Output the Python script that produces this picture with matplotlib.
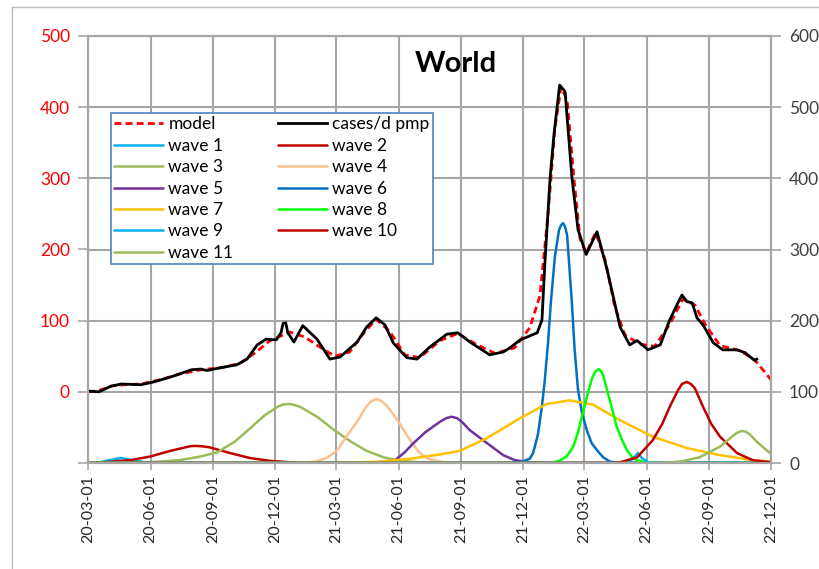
import pandas as pd
import matplotlib
matplotlib.use("Agg")
from matplotlib import pyplot as plt
from matplotlib.lines import Line2D
import matplotlib.dates as mdates

plt.rcParams['font.family'] = ['Lato', 'DejaVu Sans']

# cases per day per million (left axis)
cases_dates = ['2020-03-02', '2020-03-17', '2020-04-04', '2020-04-19', '2020-05-18', '2020-06-06',
               '2020-07-01', '2020-07-31', '2020-08-14', '2020-08-23', '2020-09-13', '2020-10-06',
               '2020-10-21', '2020-11-05', '2020-11-18', '2020-12-03', '2020-12-10', '2020-12-13',
               '2020-12-17', '2020-12-20', '2020-12-29', '2021-01-11', '2021-02-01', '2021-02-20',
               '2021-03-07', '2021-04-01', '2021-04-15', '2021-04-29', '2021-05-12', '2021-05-24',
               '2021-06-13', '2021-06-28', '2021-07-17', '2021-08-11', '2021-08-27', '2021-09-14',
               '2021-10-13', '2021-11-02', '2021-11-12', '2021-11-27', '2021-12-22', '2021-12-29',
               '2022-01-02', '2022-01-10', '2022-01-16', '2022-01-24', '2022-02-01', '2022-02-11',
               '2022-02-20', '2022-03-04', '2022-03-20', '2022-04-04', '2022-04-23', '2022-05-07',
               '2022-05-18', '2022-06-03', '2022-06-21', '2022-07-05', '2022-07-17', '2022-07-23',
               '2022-07-30', '2022-08-07', '2022-08-14', '2022-08-23', '2022-09-07', '2022-09-21',
               '2022-10-12', '2022-10-24', '2022-11-07', '2022-11-10']
cases = [1, 0, 8, 11, 10, 14,
         21, 31, 32, 30, 34, 38,
         46, 66, 74, 73, 83, 96,
         97, 83, 70, 93, 74, 46,
         49, 70, 91, 104, 94, 69,
         48, 46, 63, 81, 83, 70,
         52, 56, 62, 73, 83, 101,
         176, 302, 365, 431, 422, 302,
         228, 193, 225, 171, 91, 66,
         72, 59, 66, 101, 125, 136,
         127, 125, 104, 94, 69, 59,
         59, 55, 44, 46]

# model fit (left axis)
model_dates = ['2020-03-01', '2020-03-18', '2020-04-04', '2020-04-24', '2020-05-18', '2020-06-15',
               '2020-07-14', '2020-08-14', '2020-09-13', '2020-10-11', '2020-11-02', '2020-11-24',
               '2020-12-23', '2021-01-14', '2021-02-05', '2021-02-27', '2021-03-21', '2021-04-12',
               '2021-04-29', '2021-05-19', '2021-06-10', '2021-07-02', '2021-08-01', '2021-08-27',
               '2021-09-21', '2021-10-21', '2021-11-19', '2021-12-11', '2021-12-26', '2022-01-07',
               '2022-01-17', '2022-01-26', '2022-02-04', '2022-02-14', '2022-02-23', '2022-03-04',
               '2022-03-18', '2022-04-01', '2022-04-15', '2022-04-30', '2022-05-22', '2022-06-13',
               '2022-07-05', '2022-07-24', '2022-08-11', '2022-08-26', '2022-09-17', '2022-10-16',
               '2022-11-07', '2022-12-01']
model = [0, 2, 8, 10, 11, 17,
         25, 31, 34, 40, 55, 72,
         84, 77, 63, 50, 56, 84,
         102, 85, 52, 48, 72, 82,
         68, 54, 62, 90, 135, 250,
         370, 428, 410, 300, 215, 195,
         224, 185, 120, 80, 67, 64,
         95, 130, 122, 95, 65, 58,
         45, 17]

# waves (right axis)
w1_dates = ['2020-03-01', '2020-03-18', '2020-04-02', '2020-04-19', '2020-05-05', '2020-05-24',
            '2020-06-15', '2022-12-01']
w1 = [0, 1, 4, 7, 4, 1, 0, 0]

w2_dates = ['2020-03-01', '2020-03-18', '2020-05-02', '2020-05-31', '2020-06-30', '2020-07-22',
            '2020-07-29', '2020-08-05', '2020-08-16', '2020-08-27', '2020-09-26', '2020-10-25',
            '2020-11-24', '2020-12-23', '2021-01-22', '2022-12-01']
w2 = [0, 0.5, 4, 9, 17, 22, 23.5, 24, 23.5, 22, 14, 7, 3, 1, 0, 0]

w3_dates = ['2020-03-01', '2020-05-31', '2020-07-14', '2020-08-13', '2020-09-07', '2020-10-03',
            '2020-10-27', '2020-11-16', '2020-12-05', '2020-12-12', '2020-12-20', '2020-12-28',
            '2021-01-07', '2021-02-01', '2021-02-28', '2021-03-23', '2021-04-15', '2021-05-10',
            '2021-06-03', '2021-07-02', '2021-08-01', '2022-12-01']
w3 = [0, 1, 4, 9, 15, 30, 50, 67, 79, 82, 83, 82, 79, 65, 45, 30, 17, 8, 3, 1, 0, 0]

w4_dates = ['2020-03-01', '2021-01-07', '2021-01-29', '2021-02-15', '2021-03-02', '2021-03-17',
            '2021-04-01', '2021-04-15', '2021-04-22', '2021-04-30', '2021-05-07', '2021-05-15',
            '2021-05-29', '2021-06-18', '2021-07-02', '2021-07-17', '2021-08-08', '2021-08-30',
            '2022-12-01']
w4 = [0, 0, 2, 7, 17, 38, 58, 80, 87, 90, 87, 80, 62, 32, 14, 5, 1, 0, 0]

w5_dates = ['2020-03-01', '2021-04-05', '2021-05-05', '2021-05-27', '2021-06-10', '2021-06-22',
            '2021-07-10', '2021-08-01', '2021-08-10', '2021-08-18', '2021-08-26', '2021-09-02',
            '2021-09-14', '2021-10-09', '2021-11-02', '2021-11-19', '2021-12-11', '2022-01-10',
            '2022-12-01']
w5 = [0, 0, 1, 4, 15, 27, 43, 58, 63, 65, 63, 58, 46, 28, 11, 4, 1, 0, 0]

w6_dates = ['2020-03-01', '2021-11-12', '2021-11-27', '2021-12-11', '2021-12-16', '2021-12-23',
            '2021-12-29', '2022-01-02', '2022-01-07', '2022-01-11', '2022-01-17', '2022-01-23',
            '2022-01-26', '2022-01-29', '2022-02-01', '2022-02-04', '2022-02-11', '2022-02-15',
            '2022-02-20', '2022-02-26', '2022-03-05', '2022-03-12', '2022-03-20', '2022-03-29',
            '2022-04-08', '2022-04-23', '2022-12-01']
w6 = [0, 0, 1, 6, 14, 40, 80, 115, 170, 225, 290, 327, 334, 337, 332, 320, 225, 160,
      103, 70, 46, 28, 18, 8, 2, 0, 0]

w7_dates = ['2020-03-01', '2021-03-07', '2021-05-05', '2021-06-18', '2021-08-01', '2021-08-30',
            '2021-10-09', '2021-11-27', '2022-01-05', '2022-02-08', '2022-03-14', '2022-04-23',
            '2022-06-10', '2022-07-30', '2022-09-17', '2022-11-04', '2022-12-01']
w7 = [0, 0, 2, 6, 12, 17, 35, 63, 83, 88, 82, 60, 37, 21, 11, 4, 2]

w8_dates = ['2020-03-01', '2022-01-10', '2022-01-24', '2022-02-04', '2022-02-13', '2022-02-20',
            '2022-02-27', '2022-03-07', '2022-03-12', '2022-03-17', '2022-03-23', '2022-03-27',
            '2022-03-30', '2022-04-05', '2022-04-12', '2022-04-18', '2022-04-26', '2022-05-03',
            '2022-05-10', '2022-05-18', '2022-05-30', '2022-06-13', '2022-12-01']
w8 = [0, 0, 3, 10, 23, 43, 70, 100, 117, 128, 132, 128, 120, 98, 73, 51, 32, 18, 9, 4, 1, 0, 0]

w9_dates = ['2020-03-01', '2022-04-23', '2022-05-07', '2022-05-13', '2022-05-19', '2022-05-25',
            '2022-06-03', '2022-06-13', '2022-12-01']
w9 = [0, 0, 2, 7, 14, 7, 1, 0, 0]

w10_dates = ['2020-03-01', '2022-04-08', '2022-04-23', '2022-05-18', '2022-06-10', '2022-06-24',
             '2022-07-05', '2022-07-17', '2022-07-23', '2022-07-30', '2022-08-05', '2022-08-11',
             '2022-08-23', '2022-09-04', '2022-09-17', '2022-10-12', '2022-11-04', '2022-12-01']
w10 = [0, 0, 1, 8, 32, 55, 79, 102, 111, 114, 111, 105, 79, 55, 37, 14, 4, 1]

w11_dates = ['2020-03-01', '2022-06-21', '2022-07-20', '2022-08-18', '2022-09-17', '2022-10-02',
             '2022-10-11', '2022-10-19', '2022-10-25', '2022-10-31', '2022-11-10', '2022-11-22',
             '2022-12-01']
w11 = [0, 0, 2, 8, 23, 35, 42, 45, 44, 40, 30, 20, 13]

waves = [
    ('wave 1', w1_dates, w1, '#00B0F0'),
    ('wave 2', w2_dates, w2, '#C00000'),
    ('wave 3', w3_dates, w3, '#9BBB59'),
    ('wave 4', w4_dates, w4, '#FAC090'),
    ('wave 5', w5_dates, w5, '#7030A0'),
    ('wave 6', w6_dates, w6, '#0070C0'),
    ('wave 7', w7_dates, w7, '#FFC000'),
    ('wave 8', w8_dates, w8, '#00FF00'),
    ('wave 9', w9_dates, w9, '#00B0F0'),
    ('wave 10', w10_dates, w10, '#C00000'),
    ('wave 11', w11_dates, w11, '#9BBB59'),
]

x_ticks = pd.date_range('2020-03-01', '2022-12-01', freq='3MS')

grid_col = '#A6A6A6'

fig = plt.figure(figsize=(8.2, 5.69), dpi=100)
fig.add_artist(Line2D([12 / 820, 1], [1 - 7 / 569] * 2, color='#BFBFBF', lw=1))
fig.add_artist(Line2D([12 / 820] * 2, [0, 1 - 7 / 569], color='#BFBFBF', lw=1))

ax = fig.add_axes([88 / 820, 1 - 463 / 569, 683 / 820, 427 / 569])
ax2 = ax.twinx()

# waves on the right axis, drawn first (below)
handles = {}
for name, d, v, c in waves:
    h, = ax2.plot(pd.to_datetime(d), v, color=c, lw=1.8, solid_capstyle='round')
    handles[name] = h

# model and cases on the left axis
h_model, = ax.plot(pd.to_datetime(model_dates), model, color='#FF0000', lw=2, ls=(0, (2.5, 1.5)))
h_cases, = ax.plot(pd.to_datetime(cases_dates), cases, color='black', lw=2)
ax.set_zorder(ax2.get_zorder() + 1)
ax.patch.set_visible(False)
ax2.patch.set_visible(True)
ax2.patch.set_facecolor('white')

ax.set_xlim(pd.Timestamp('2020-03-01'), pd.Timestamp('2022-12-01'))
ax.set_xticks(x_ticks)
ax.xaxis.set_major_formatter(mdates.DateFormatter('%y-%m-%d'))
ax.tick_params(axis='x', rotation=90, labelsize=11.5, colors=grid_col, labelcolor='#262626',
               length=5, width=1.2)

ax.set_ylim(-100, 500)
ax.set_yticks(range(-100, 501, 100))
ax.set_yticklabels([''] + [str(v) for v in range(0, 501, 100)])
ax.tick_params(axis='y', labelsize=12.5, colors=grid_col, labelcolor='#FF0000', length=7,
               width=1.2, pad=6)

ax2.set_ylim(0, 600)
ax2.set_yticks(range(0, 601, 100))
ax2.tick_params(axis='y', labelsize=12.5, colors=grid_col, labelcolor='#404040', length=7,
                width=1.2, pad=6)

# gridlines drawn on the wave axis so they sit under all curves
ax2.grid(True, axis='y', color=grid_col, lw=1.5)
for t in x_ticks:
    ax2.axvline(t, color=grid_col, lw=1.5, zorder=0.5)
for a in (ax, ax2):
    for s in a.spines.values():
        s.set_color(grid_col)
        s.set_linewidth(1.5)

ax.text(0.539, 0.934, 'World', transform=ax.transAxes, ha='center', va='center',
        fontsize=21, fontweight='bold')

order = [h_model, handles['wave 1'], handles['wave 3'], handles['wave 5'], handles['wave 7'],
         handles['wave 9'], handles['wave 11'],
         h_cases, handles['wave 2'], handles['wave 4'], handles['wave 6'], handles['wave 8'],
         handles['wave 10']]
labels = ['model', 'wave 1', 'wave 3', 'wave 5', 'wave 7', 'wave 9', 'wave 11',
          'cases/d pmp', 'wave 2', 'wave 4', 'wave 6', 'wave 8', 'wave 10']
leg = ax.legend(order, labels, ncol=2, loc='upper left',
                bbox_to_anchor=((111 - 88) / 683, (463 - 113) / 427), borderaxespad=0,
                fontsize=12.5, handlelength=2.8, handletextpad=0.3, columnspacing=2.6,
                labelspacing=0.31, borderpad=0.2, fancybox=False, framealpha=1,
                edgecolor='#4F81BD')
leg.get_frame().set_linewidth(1.2)

plt.savefig('out.png', dpi=100)
plt.close()
